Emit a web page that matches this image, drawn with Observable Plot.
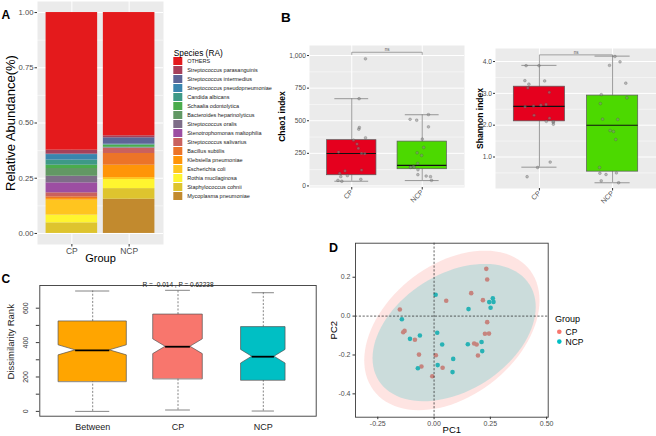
<!DOCTYPE html>
<html>
<head>
<meta charset="utf-8">
<script src="https://cdn.jsdelivr.net/npm/d3@7"></script>
<script src="https://cdn.jsdelivr.net/npm/@observablehq/plot@0.6"></script>
<style>
  html, body { margin: 0; padding: 0; background: #fff; }
  #fig { position: relative; width: 656px; height: 436px; overflow: hidden;
         font-family: "Liberation Sans", Arial, Helvetica, sans-serif; }
</style>
</head>
<body>
<div id="fig"></div>
<script>
const FONT = "'Liberation Sans', Arial, Helvetica, sans-serif";

// ---------- A: species relative abundance ----------
const groups = ["CP", "NCP"];
const species = [
  "OTHERS", "Streptococcus parasanguinis", "Streptococcus intermedius",
  "Streptococcus pseudopneumoniae", "Candida albicans", "Schaalia odontolytica",
  "Bacteroides heparinolyticus", "Streptococcus oralis", "Stenotrophomonas maltophilia",
  "Streptococcus salivarius", "Bacillus subtilis", "Klebsiella pneumoniae",
  "Escherichia coli", "Rothia mucilaginosa", "Staphylococcus cohnii", "Mycoplasma pneumoniae"
];
const speciesColors = [
  "#E41A1C", "#A6405A", "#5D6597", "#3A85AE", "#3E9986", "#4AAC4C",
  "#629864", "#7E6D88", "#9C4EA2", "#C9615E", "#EC7428", "#FF9508",
  "#FFC51F", "#FFF52F", "#DEC42E", "#C28A2E"
];
const abundanceCP  = [0.623, 0.018, 0.002, 0.025, 0.023, 0.015, 0.035, 0.030, 0.045, 0.018, 0.008, 0.007, 0.068, 0.035, 0.048, 0.000];
const abundanceNCP = [0.558, 0.009, 0.029, 0.002, 0.002, 0.010, 0.002, 0.002, 0.001, 0.023, 0.053, 0.056, 0.009, 0.041, 0.048, 0.155];

// ---------- B: alpha diversity ----------
const chaoCP  = [975, 669, 448, 435, 369, 351, 321, 288, 260, 249, 247, 122, 115, 97, 79, 71, 51, 43, 36];
const chaoNCP = [547, 511, 504, 453, 359, 295, 254, 234, 173, 150, 143, 143, 143, 124, 86, 76, 71, 43];
const chaoLow = [36, 41], chaoQ1 = [82, 128], chaoMedian = [249, 158], chaoQ3 = [351, 340], chaoHigh = [669, 546];
const chaoSig = 1025, chaoSigTips = [1008, 1008];

const shannonCP  = [3.87, 3.87, 3.39, 3.40, 3.29, 3.17, 3.03, 2.65, 2.58, 2.60, 2.63, 2.31, 2.22, 2.10, 2.10, 2.12, 2.03, 0.84, 0.67, 0.38];
const shannonNCP = [4.16, 3.99, 3.88, 3.32, 2.96, 2.86, 2.68, 2.18, 2.19, 1.83, 1.80, 1.55, 0.67, 0.50, 0.45, 0.49, 0.25, 0.19];
const shannonLow = [0.68, 0.19], shannonQ1 = [2.12, 0.54], shannonMedian = [2.59, 2.00], shannonQ3 = [3.21, 2.93], shannonHigh = [3.88, 4.17];
const shannonSig = 4.21, shannonSigTips = [3.88, 4.15];
const alphaColors = ["#E5001E", "#4CD900"];

// ---------- C: ANOSIM dissimilarity ranks ----------
const rankGroups = ["Between", "CP", "NCP"];
const rankLow = [0, 8, 2], rankQ1 = [172, 188, 180], rankMedian = [355, 376, 318],
      rankQ3 = [523, 563, 490], rankHigh = [700, 704, 690];
const rankColors = ["#FFA500", "#F8766D", "#00BFC4"];
const anosimTitle = "R = -0.014 , P = 0.62238";

// ---------- D: PCoA ----------
const pcoaCPx  = [0.232, 0.236, 0.165, 0.054, 0.217, -0.152, 0.236, 0.226, 0.244, -0.137, -0.131, -0.085, 0.178, 0.189, -0.067, 0.008, 0.195, -0.056, 0.038, -0.008];
const pcoaCPy  = [0.243, 0.188, 0.118, 0.079, 0.082, 0.034, -0.031, -0.091, -0.090, -0.083, -0.076, -0.122, -0.141, -0.146, -0.198, -0.201, -0.203, -0.259, -0.266, -0.309];
const pcoaNCPx = [0.007, 0.261, 0.245, 0.264, 0.251, 0.153, -0.143, 0.014, -0.063, -0.107, 0.036, 0.150, 0.211, 0.214, 0.085, 0.016, -0.072, 0.082];
const pcoaNCPy = [0.110, 0.092, 0.072, 0.073, 0.043, 0.036, -0.016, -0.086, -0.100, -0.117, -0.146, -0.145, -0.133, -0.180, -0.220, -0.252, -0.268, -0.288];
const groupColors = ["#F8766D", "#00BFC4"];

const fig = document.getElementById("fig");
function place(node, left, top) {
  node.style.position = "absolute";
  node.style.left = left + "px";
  node.style.top = top + "px";
  node.style.overflow = "visible";
  fig.appendChild(node);
}
const baseStyle = {fontFamily: FONT, background: "transparent", overflow: "visible"};

// ===== Panel A: stacked bars, stacked from the last legend entry upward =====
const stackRows = groups.flatMap((g, gi) => {
  const vals = gi === 0 ? abundanceCP : abundanceNCP;
  let acc = 0;
  return d3.range(species.length).reverse().map(k => {
    const y1 = acc; acc += vals[k];
    return {group: g, pos: gi + 1, species: species[k], y1, y2: acc};
  });
});

const plotA = Plot.plot({
  width: 170, height: 270, marginLeft: 37, marginRight: 7, marginTop: 1, marginBottom: 26,
  style: baseStyle,
  x: {domain: [0.4, 2.6]},
  y: {domain: [-0.05, 1.05]},
  color: {domain: species, range: speciesColors},
  marks: [
    Plot.frame({fill: "#EBEBEB", stroke: "none"}),
    Plot.ruleY([0.125, 0.375, 0.625, 0.875], {stroke: "#fff", strokeWidth: 0.5}),
    Plot.ruleY([0, 0.25, 0.5, 0.75, 1], {stroke: "#fff", strokeWidth: 1}),
    Plot.ruleX([1, 2], {stroke: "#fff", strokeWidth: 1}),
    Plot.rect(stackRows, {x1: d => d.pos - 0.45, x2: d => d.pos + 0.45, y1: "y1", y2: "y2", fill: "species"}),
    Plot.axisY({ticks: [0, 0.25, 0.5, 0.75, 1], tickFormat: d => d.toFixed(2), tickSize: 2.5, tickPadding: 1.5,
                fontSize: 7.7, fill: "#4D4D4D", stroke: "#333", label: null}),
    Plot.axisX({ticks: [1, 2], tickFormat: i => groups[i - 1], tickSize: 2.5, tickPadding: 1,
                fontSize: 8.5, fill: "#4D4D4D", stroke: "#333", label: null}),
    Plot.text(["Group"], {frameAnchor: "bottom", dy: 17, fontSize: 11, fill: "#000"}),
    Plot.text(["Relative Abundance(%)"], {frameAnchor: "left", dx: -27, rotate: -90, textAnchor: "middle", fontSize: 13, fill: "#000"})
  ]
});
place(plotA, 0, 0);

// legend for panel A
const legendA = Plot.plot({
  width: 120, height: 165, marginLeft: 3.3, marginRight: 107.7, marginTop: 9.6, marginBottom: 7.1,
  style: baseStyle,
  y: {type: "band", domain: species, paddingInner: 0.12, paddingOuter: 0.06, axis: null},
  color: {domain: species, range: speciesColors},
  marks: [
    Plot.cell(species, {y: d => d, fill: d => d}),
    Plot.text(species, {y: d => d, text: d => d, frameAnchor: "right", dx: 4.4, textAnchor: "start", fontSize: 5.5, fill: "#1A1A1A"}),
    Plot.text(["Species (RA)"], {frameAnchor: "top-left", dy: -4.6, textAnchor: "start", fontSize: 8.3, fill: "#000"})
  ]
});
place(legendA, 170, 45);

// ===== Panel B: box plots with jittered samples =====
function alphaPanel(cfg) {
  const jitter = d3.randomUniform.source(d3.randomLcg(cfg.seed))(-0.2, 0.2);
  const pts = groups.flatMap((g, gi) => cfg.values[gi].map(v => ({pos: gi + 1 + jitter(), v})));
  const boxes = groups.map((g, gi) => ({
    pos: gi + 1, low: cfg.low[gi], q1: cfg.q1[gi], median: cfg.median[gi],
    q3: cfg.q3[gi], high: cfg.high[gi], color: alphaColors[gi]
  }));
  const bracket = [
    {x: 1, y: cfg.tips[0]}, {x: 1, y: cfg.sig}, {x: 2, y: cfg.sig}, {x: 2, y: cfg.tips[1]}
  ];
  return Plot.plot({
    width: cfg.width, height: 180, marginLeft: cfg.marginLeft, marginRight: cfg.marginRight,
    marginTop: cfg.marginTop, marginBottom: cfg.marginBottom,
    style: baseStyle,
    x: {domain: [0.4, 2.6]},
    y: {domain: cfg.domain},
    color: {type: "identity"},
    marks: [
      Plot.frame({fill: "#EBEBEB", stroke: "none"}),
      Plot.ruleY(cfg.minor, {stroke: "#fff", strokeWidth: 0.5}),
      Plot.ruleY(cfg.ticks, {stroke: "#fff", strokeWidth: 1}),
      Plot.ruleX([1, 2], {stroke: "#fff", strokeWidth: 1}),
      Plot.ruleX(boxes, {x: "pos", y1: "low", y2: "high", stroke: "#7F7F7F", strokeWidth: 0.8}),
      Plot.ruleY(boxes, {y: "low", x1: d => d.pos - 0.24, x2: d => d.pos + 0.24, stroke: "#7F7F7F", strokeWidth: 0.8}),
      Plot.ruleY(boxes, {y: "high", x1: d => d.pos - 0.24, x2: d => d.pos + 0.24, stroke: "#7F7F7F", strokeWidth: 0.8}),
      Plot.rect(boxes, {x1: d => d.pos - 0.35, x2: d => d.pos + 0.35, y1: "q1", y2: "q3", fill: "color", stroke: "#5A5A5A", strokeWidth: 0.7}),
      Plot.ruleY(boxes, {y: "median", x1: d => d.pos - 0.35, x2: d => d.pos + 0.35, stroke: "#111", strokeWidth: 1.1}),
      Plot.dot(pts, {x: "pos", y: "v", r: 1.4, fill: "#8C8C8C", fillOpacity: 0.55, stroke: "#3A3A3A", strokeOpacity: 0.55, strokeWidth: 0.4}),
      Plot.line(bracket, {x: "x", y: "y", stroke: "#7F7F7F", strokeWidth: 0.7}),
      Plot.text(["ns"], {x: 1.5, y: cfg.sig, dy: -2.6, fontSize: 4.5, fill: "#555"}),
      Plot.axisY({ticks: cfg.ticks, tickSize: 2, tickPadding: 1.5, fontSize: 6.7, fill: "#4D4D4D", stroke: "#333", label: null}),
      Plot.axisX({ticks: [1, 2], tickFormat: i => groups[i - 1], tickRotate: -45, tickSize: 2.5, tickPadding: 1,
                  fontSize: 7, fill: "#4D4D4D", stroke: "#333", label: null}),
      Plot.text([cfg.title], {frameAnchor: "left", dx: cfg.titleDx, rotate: -90, textAnchor: "middle",
                              fontSize: 8.5, fontWeight: "bold", fill: "#000"})
    ]
  });
}

place(alphaPanel({
  values: [chaoCP, chaoNCP], low: chaoLow, q1: chaoQ1, median: chaoMedian, q3: chaoQ3, high: chaoHigh,
  sig: chaoSig, tips: chaoSigTips, domain: [-12, 1077],
  ticks: [0, 250, 500, 750, 1000], minor: [125, 375, 625, 875],
  title: "Chao1 index", titleDx: -27, seed: 0.31,
  width: 203, marginLeft: 47, marginRight: 1, marginTop: 10, marginBottom: 28
}), 262, 35);

place(alphaPanel({
  values: [shannonCP, shannonNCP], low: shannonLow, q1: shannonQ1, median: shannonMedian, q3: shannonQ3, high: shannonHigh,
  sig: shannonSig, tips: shannonSigTips, domain: [0.01, 4.41],
  ticks: [1, 2, 3, 4], minor: [0.5, 1.5, 2.5, 3.5],
  title: "Shannon index", titleDx: -15, seed: 0.77,
  width: 201, marginLeft: 40, marginRight: 0, marginTop: 13, marginBottom: 27
}), 455, 35);

// ===== Panel C: notched, variable-width box plots =====
const nCP = pcoaCPx.length, nNCP = pcoaNCPx.length;
const rankPairs = [nCP * nNCP, nCP * (nCP - 1) / 2, nNCP * (nNCP - 1) / 2];
const maxPairs = d3.max(rankPairs);
const rankBoxes = rankGroups.map((g, i) => {
  const n = rankPairs[i];
  const half = 0.4 * Math.sqrt(n) / Math.sqrt(maxPairs);
  const notch = 1.58 * (rankQ3[i] - rankQ1[i]) / Math.sqrt(n);
  return {group: g, c: i + 1, half, notch, low: rankLow[i], q1: rankQ1[i], median: rankMedian[i],
          q3: rankQ3[i], high: rankHigh[i], color: rankColors[i]};
});
const rankOutline = rankBoxes.flatMap(b => [
  {y: b.q1, f: 1}, {y: b.median - b.notch, f: 1}, {y: b.median, f: 0.5},
  {y: b.median + b.notch, f: 1}, {y: b.q3, f: 1}
].map(p => ({group: b.group, color: b.color, y: p.y, x1: b.c - b.half * p.f, x2: b.c + b.half * p.f})));

const plotC = Plot.plot({
  width: 330, height: 164, marginLeft: 39.3, marginRight: 14.3, marginTop: 13, marginBottom: 20.3,
  style: baseStyle,
  x: {domain: [0.38, 3.62]},
  y: {domain: [-28, 732]},
  color: {type: "identity"},
  marks: [
    Plot.ruleX(rankBoxes, {x: "c", y1: "q3", y2: "high", stroke: "#666", strokeWidth: 0.8, strokeDasharray: "2,1.6"}),
    Plot.ruleX(rankBoxes, {x: "c", y1: "low", y2: "q1", stroke: "#666", strokeWidth: 0.8, strokeDasharray: "2,1.6"}),
    Plot.ruleY(rankBoxes, {y: "high", x1: d => d.c - d.half / 2, x2: d => d.c + d.half / 2, stroke: "#666", strokeWidth: 0.8}),
    Plot.ruleY(rankBoxes, {y: "low", x1: d => d.c - d.half / 2, x2: d => d.c + d.half / 2, stroke: "#666", strokeWidth: 0.8}),
    Plot.areaX(rankOutline, {y: "y", x1: "x1", x2: "x2", z: "group", fill: "color", stroke: "#555", strokeWidth: 0.7}),
    Plot.ruleY(rankBoxes, {y: "median", x1: d => d.c - d.half / 2, x2: d => d.c + d.half / 2, stroke: "#000", strokeWidth: 1.8}),
    Plot.frame({stroke: "#3A3A3A", strokeWidth: 0.9}),
    Plot.axisY({ticks: d3.range(0, 700, 100), tickSize: 3.5, tickFormat: () => "", stroke: "#3A3A3A", label: null}),
    Plot.text([0, 200, 400, 600], {y: d => d, text: d => String(d), frameAnchor: "left", dx: -14.3, rotate: -90,
                                   textAnchor: "middle", fontSize: 7, fill: "#333"}),
    Plot.axisX({ticks: [1, 2, 3], tickFormat: i => rankGroups[i - 1], tickSize: 0, tickPadding: 7,
                fontSize: 9, fill: "#222", label: null}),
    Plot.text([anosimTitle], {frameAnchor: "top", dy: -3, fontSize: 6.5, fill: "#222"}),
    Plot.text(["Dissimilarity Rank"], {frameAnchor: "left", dx: -29.3, dy: -9, rotate: -90, textAnchor: "middle",
                                       fontSize: 9.5, fill: "#222"})
  ]
});
place(plotC, 0, 272);

// ===== Panel D: PCoA with 95% data ellipses =====
function dataEllipse(xs, ys, level = 0.95, segments = 96) {
  const n = xs.length;
  const mx = d3.mean(xs), my = d3.mean(ys);
  const sxx = d3.variance(xs), syy = d3.variance(ys);
  const sxy = d3.sum(xs, (x, i) => (x - mx) * (ys[i] - my)) / (n - 1);
  const dfd = n - 1;
  const fq = (dfd / 2) * (Math.pow(1 - level, -2 / dfd) - 1); // F quantile with 2 and n-1 df
  const r = Math.sqrt(2 * fq);
  const a = Math.sqrt(sxx), b = sxy / a, c = Math.sqrt(syy - b * b);
  return d3.range(segments + 1).map(k => {
    const t = 2 * Math.PI * k / segments;
    return {x: mx + r * a * Math.cos(t), y: my + r * (b * Math.cos(t) + c * Math.sin(t))};
  });
}
const pcoaPoints = [
  ...pcoaCPx.map((x, i) => ({x, y: pcoaCPy[i], color: groupColors[0]})),
  ...pcoaNCPx.map((x, i) => ({x, y: pcoaNCPy[i], color: groupColors[1]}))
];
const ellCP = dataEllipse(pcoaCPx, pcoaCPy);
const ellNCP = dataEllipse(pcoaNCPx, pcoaNCPy);

const plotD = Plot.plot({
  width: 326, height: 204, marginLeft: 25, marginRight: 108.3, marginTop: 10.7, marginBottom: 19.3,
  style: baseStyle,
  x: {domain: [-0.349, 0.507]},
  y: {domain: [-0.52, 0.375]},
  color: {type: "identity"},
  marks: [
    Plot.dot(pcoaPoints, {x: "x", y: "y", r: 2.3, fill: "color", stroke: "none"}),
    Plot.line(ellCP, {x: "x", y: "y", fill: groupColors[0], fillOpacity: 0.2, stroke: "none"}),
    Plot.line(ellNCP, {x: "x", y: "y", fill: groupColors[1], fillOpacity: 0.2, stroke: "none"}),
    Plot.ruleX([0], {stroke: "#222", strokeWidth: 0.7, strokeDasharray: "2.2,1.6"}),
    Plot.ruleY([0], {stroke: "#222", strokeWidth: 0.7, strokeDasharray: "2.2,1.6"}),
    Plot.frame({stroke: "#3C3C3C", strokeWidth: 0.9}),
    Plot.axisX({ticks: [-0.25, 0, 0.25, 0.5], tickFormat: d => d.toFixed(2), tickSize: 2.5, tickPadding: 1.5,
                fontSize: 7, fill: "#4D4D4D", stroke: "#333", label: null}),
    Plot.axisY({ticks: [-0.4, -0.2, 0, 0.2], tickFormat: d => d.toFixed(1), tickSize: 2.5, tickPadding: 2.5,
                fontSize: 7, fill: "#4D4D4D", stroke: "#333", label: null}),
    Plot.text(["PC1"], {frameAnchor: "bottom", dy: 15.3, fontSize: 9.5, fill: "#000"}),
    Plot.text(["PC2"], {frameAnchor: "left", dx: -22, rotate: -90, textAnchor: "middle", fontSize: 9.5, fill: "#000"})
  ]
});
place(plotD, 330, 232);

// legend for panel D
const legD = d3.create("svg").attr("width", 70).attr("height", 42)
  .style("font-family", FONT);
legD.append("text").attr("x", 5).attr("y", 12.2).attr("font-size", 9).text("Group");
groups.forEach((g, i) => {
  legD.append("circle").attr("cx", 9.3).attr("cy", 21.8 + i * 9.8).attr("r", 2.3).attr("fill", groupColors[i]);
  legD.append("text").attr("x", 15.5).attr("y", 24.8 + i * 9.8).attr("font-size", 8.5).text(g);
});
place(legD.node(), 550, 310);

// panel letters
const tags = d3.create("svg").attr("width", 656).attr("height", 436)
  .style("font-family", FONT).style("pointer-events", "none");
[["A", 1.5, 18.5, 12], ["B", 281, 21.7, 13.5], ["C", 1.5, 283.3, 12], ["D", 329, 251.7, 12.5]]
  .forEach(([t, x, y, s]) => tags.append("text").attr("x", x).attr("y", y)
    .attr("font-size", s).attr("font-weight", "bold").text(t));
place(tags.node(), 0, 0);
</script>
</body>
</html>
